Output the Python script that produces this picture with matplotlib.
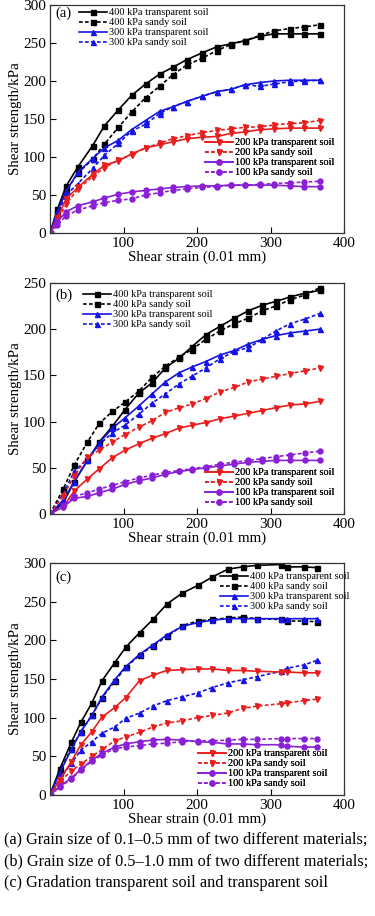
import matplotlib
matplotlib.use("Agg")
import matplotlib.pyplot as plt

plt.rcParams["font.family"] = ["Liberation Serif", "DejaVu Serif"]

# ---- data ----
# panel (a): grain size 0.1-0.5 mm
strain_a = [0, 10, 22, 38, 58, 74, 93, 111, 130, 149, 167, 186, 207, 227, 246, 265, 286, 305, 326, 345, 367]
a_400_t = [0, 31, 62, 87, 115, 141, 162, 181, 196, 209, 218, 228, 237, 245, 249, 253, 259, 262, 262, 262, 262]
a_400_s = [0, 26, 55, 79, 97, 117, 139, 159, 178, 193, 208, 221, 230, 240, 248, 253, 260, 266, 269, 271, 274]
a_300_t = [0, 28, 55, 80, 98, 112, 122, 136, 148, 160, 166, 173, 180, 186, 189, 195, 198, 200, 201, 201, 201]
a_300_s = [0, 25, 50, 65, 85, 102, 118, 134, 143, 157, 166, 173, 180, 186, 189, 195, 193, 196, 199, 200, 201]
a_200_t = [0, 20, 45, 60, 77, 89, 95, 104, 112, 116, 120, 124, 126, 127, 131, 133, 136, 137, 138, 138, 138]
a_200_s = [0, 17, 38, 58, 74, 86, 96, 103, 112, 118, 124, 128, 132, 135, 137, 139, 140, 142, 144, 145, 148]
a_100_t = [0, 15, 28, 36, 41, 46, 51, 54, 56, 58, 60, 61, 62, 62, 63, 63, 63, 63, 62, 61, 61]
a_100_s = [0, 10, 23, 30, 36, 40, 43, 45, 50, 53, 56, 58, 60, 61, 63, 63, 64, 65, 66, 67, 68]

# panel (b): grain size 0.5-1.0 mm
strain_b = [0, 18, 33, 51, 67, 85, 102, 121, 139, 157, 176, 193, 212, 231, 251, 270, 289, 307, 327, 347, 367]
b_400_t = [0, 12, 35, 58, 78, 95, 113, 131, 142, 158, 169, 181, 194, 203, 212, 220, 226, 230, 235, 239, 242]
b_400_s = [0, 27, 53, 78, 98, 111, 121, 133, 148, 160, 170, 178, 189, 198, 206, 212, 220, 225, 232, 237, 245]
b_300_t = [0, 15, 35, 58, 77, 93, 104, 117, 130, 143, 153, 159, 165, 172, 177, 184, 189, 193, 196, 198, 200]
b_300_s = [0, 22, 46, 60, 75, 88, 96, 108, 120, 130, 141, 149, 158, 168, 176, 180, 189, 198, 206, 211, 217]
b_200_t = [0, 8, 25, 38, 49, 61, 69, 76, 82, 87, 93, 96, 99, 103, 106, 109, 112, 115, 118, 119, 122]
b_200_s = [0, 20, 41, 62, 69, 78, 86, 94, 101, 110, 115, 119, 125, 132, 137, 143, 146, 149, 152, 155, 158]
b_100_t = [0, 8, 17, 19, 23, 27, 32, 36, 39, 43, 46, 48, 50, 52, 54, 56, 57, 58, 58, 58, 58]
b_100_s = [0, 10, 19, 23, 27, 31, 35, 39, 42, 45, 47, 49, 51, 54, 56, 58, 60, 62, 64, 66, 68]

# panel (c): gradation transparent soil vs transparent soil
strain_c = [0, 13, 29, 42, 57, 71, 88, 103, 122, 140, 159, 180, 201, 221, 242, 262, 282, 314, 323, 345, 363]
c_400_t = [0, 33, 68, 94, 119, 148, 171, 191, 210, 227, 247, 261, 271, 282, 292, 295, 297, 298, 295, 295, 294]
c_400_s = [0, 30, 60, 82, 103, 126, 147, 165, 181, 193, 205, 219, 225, 227, 229, 230, 228, 227, 225, 225, 224]
c_300_t = [0, 28, 59, 82, 103, 127, 149, 166, 182, 194, 207, 218, 223, 226, 228, 228, 228, 228, 228, 228, 228]
c_300_s = [0, 20, 41, 58, 69, 80, 88, 99, 106, 115, 122, 127, 132, 139, 145, 149, 153, 160, 164, 168, 174]
c_200_t = [0, 19, 43, 65, 82, 101, 113, 126, 148, 155, 161, 162, 163, 163, 161, 161, 160, 159, 159, 158, 158]
c_200_s = [0, 17, 31, 40, 50, 59, 70, 75, 81, 88, 93, 96, 100, 103, 106, 112, 115, 118, 119, 122, 124]
c_100_t = [0, 11, 22, 33, 45, 54, 62, 66, 69, 71, 72, 71, 69, 68, 66, 66, 65, 65, 63, 62, 62]
c_100_s = [0, 10, 21, 32, 44, 52, 60, 62, 64, 66, 67, 69, 70, 70, 71, 72, 72, 73, 73, 73, 73]

labels = ["400 kPa transparent soil", "400 kPa sandy soil",
          "300 kPa transparent soil", "300 kPa sandy soil",
          "200 kPa transparent soil", "200 kPa sandy soil",
          "100 kPa transparent soil", "100 kPa sandy soil"]

captions = ["(a) Grain size of 0.1\u20130.5 mm of two different materials;",
            "(b) Grain size of 0.5\u20131.0 mm of two different materials;",
            "(c) Gradation transparent soil and transparent soil"]

colors = ["black", "black", "#1414e6", "#1414e6", "#e81e1e", "#e81e1e", "#8a1fd6", "#8a1fd6"]
markers = ["s", "s", "^", "^", "v", "v", "o", "o"]
styles = ["-", (0, (2.2, 1.4))] * 4

W, H = 375, 916
fig = plt.figure(figsize=(W / 100, H / 100), dpi=100)


def px_axes(top, bottom, left=50, right=344):
    return fig.add_axes([left / W, 1 - bottom / H, (right - left) / W, (bottom - top) / H])


def place_legend(ax, handles, x, top):
    leg = ax.legend(handles=handles, loc="upper left",
                    bbox_to_anchor=(x / W, 1 - top / H), bbox_transform=fig.transFigure,
                    frameon=False, fontsize=7.4, handlelength=2.7, handletextpad=0.25,
                    labelspacing=0.08, borderpad=0, borderaxespad=0, markerscale=1.0)
    ax.add_artist(leg)
    return leg


def draw_panel(ax, x, series, ymax, tag, tag_y, upper, lower):
    lines = []
    for i, y in enumerate(series):
        ln, = ax.plot(x, y, color=colors[i], marker=markers[i], linestyle=styles[i],
                      linewidth=1.2, markersize=3.6, label=labels[i])
        lines.append(ln)
    ax.set_xlim(0, 400)
    ax.set_ylim(0, ymax)
    ax.set_xticks([100, 200, 300, 400])
    ax.set_yticks(list(range(0, ymax + 1, 50)))
    ax.tick_params(direction="in", length=4, width=0.8, labelsize=11, pad=3)
    for s in ax.spines.values():
        s.set_linewidth(0.9)
        s.set_color("#333333")
    ax.set_xlabel("Shear strain (0.01 mm)", fontsize=10.8, labelpad=0)
    ax.set_ylabel("Shear strength/kPa", fontsize=10.8, labelpad=1)
    fig.text(55 / W, 1 - tag_y / H, tag, fontsize=10.5, va="center", ha="left")
    place_legend(ax, lines[:4], upper[0], upper[1])
    place_legend(ax, lines[4:], lower[0], lower[1])


ax_a = px_axes(5, 233)
draw_panel(ax_a, strain_a, [a_400_t, a_400_s, a_300_t, a_300_s, a_200_t, a_200_s, a_100_t, a_100_s],
           300, "(a)", 13, (79, 8), (205, 138))

ax_b = px_axes(283, 514)
draw_panel(ax_b, strain_b, [b_400_t, b_400_s, b_300_t, b_300_s, b_200_t, b_200_s, b_100_t, b_100_s],
           250, "(b)", 295, (83, 290), (205, 468))

ax_c = px_axes(563, 795)
draw_panel(ax_c, strain_c, [c_400_t, c_400_s, c_300_t, c_300_s, c_200_t, c_200_s, c_100_t, c_100_s],
           300, "(c)", 577, (220, 572), (198, 749))

for i, cap in enumerate(captions):
    fig.text(4 / W, 1 - (839 + 22 * i) / H, cap, fontsize=11.7, va="center", ha="left")

fig.savefig("out.png", dpi=100)
